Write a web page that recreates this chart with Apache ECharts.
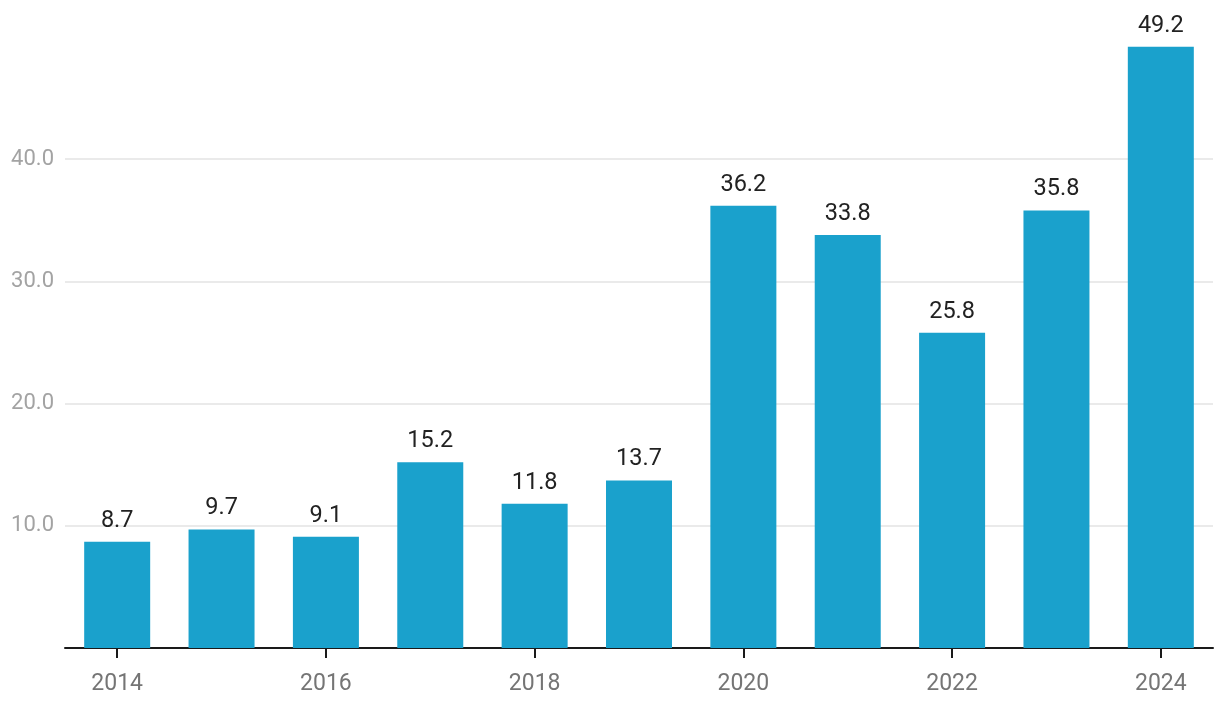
<!DOCTYPE html>
<html><head><meta charset="utf-8">
<script src="https://cdn.jsdelivr.net/npm/echarts@6/dist/echarts.min.js"></script>
<style>html,body{margin:0;padding:0;background:#fff}#c{width:1220px;height:714px}</style>
</head><body><div id="c"></div>
<script>
const years = ['2014','2015','2016','2017','2018','2019','2020','2021','2022','2023','2024'];
const values = [8.7, 9.7, 9.1, 15.2, 11.8, 13.7, 36.2, 33.8, 25.8, 35.8, 49.2];
const yTicks = [10, 20, 30, 40];

const chart = echarts.init(document.getElementById('c'));
chart.setOption({
  animation: false,
  textStyle: { fontFamily: 'Roboto' },
  grid: { left: 65, right: 7, top: 37, bottom: 66, containLabel: false },
  xAxis: {
    type: 'category',
    data: years,
    axisLine: { show: true, onZero: false, lineStyle: { color: '#1a1a1a', width: 2 } },
    axisTick: { show: true, alignWithLabel: true, interval: 1, length: 10, lineStyle: { color: '#1a1a1a', width: 2 } },
    axisLabel: { interval: 1, color: '#757575', fontSize: 23, margin: 25, fontFamily: 'Roboto' }
  },
  yAxis: {
    type: 'value',
    min: 0, max: 50, interval: 10,
    axisLine: { show: false },
    axisTick: { show: false },
    axisLabel: {
      color: '#a3a3a3', fontSize: 22, margin: 11, fontFamily: 'Roboto',
      showMinLabel: false, showMaxLabel: false,
      formatter: v => yTicks.includes(v) ? v.toFixed(1) : ''
    },
    splitLine: { show: true, showMinLine: false, showMaxLine: false, lineStyle: { color: '#e3e3e3', width: 1.5 } }
  },
  series: [{
    type: 'bar',
    data: values,
    barWidth: 66,
    itemStyle: { color: '#1aa1cc' },
    label: {
      show: true, position: 'top', distance: 9,
      color: '#222', fontSize: 23.5, fontFamily: 'Roboto',
      formatter: p => p.value.toFixed(1)
    }
  }]
});
</script></body></html>
